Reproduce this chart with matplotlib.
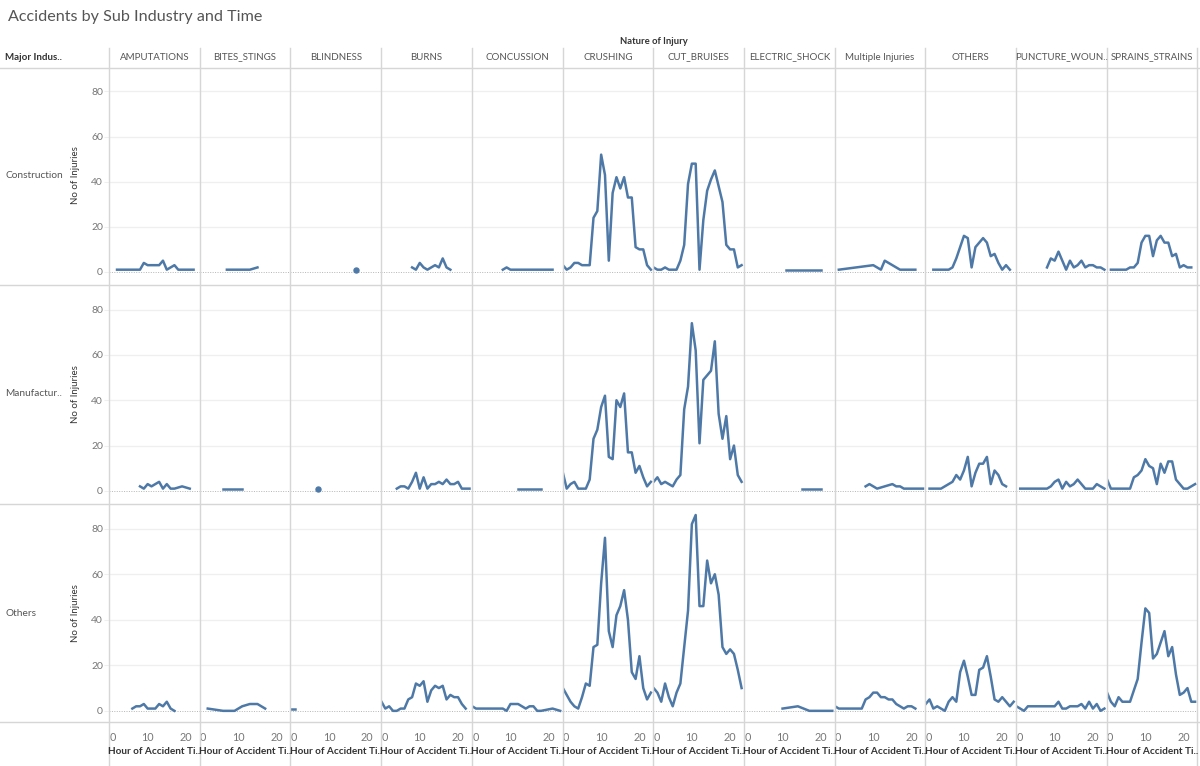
import matplotlib.pyplot as plt
from matplotlib.lines import Line2D

plt.rcParams['font.family'] = ['Lato', 'DejaVu Sans']

INDUSTRIES = ['Construction', 'Manufactur..', 'Others']
INJURIES = ['AMPUTATIONS', 'BITES_STINGS', 'BLINDNESS', 'BURNS', 'CONCUSSION',
            'CRUSHING', 'CUT_BRUISES', 'ELECTRIC_SHOCK', 'Multiple Injuries',
            'OTHERS', 'PUNCTURE_WOUN..', 'SPRAINS_STRAINS']
Y_TICKS = [0, 20, 40, 60, 80]
X_TICKS = [0, 10, 20]
ALL_HOURS = list(range(0, 24))

# ---- Construction ----
con_amputations_h = list(range(2, 23))
con_amputations_n = [1, 1, 1, 1, 1, 1, 1, 4, 3, 3, 3, 3, 5, 1, 2, 3, 1, 1, 1, 1, 1]
con_bites_h = [7, 8, 9, 10, 11, 12, 13, 15]
con_bites_n = [1, 1, 1, 1, 1, 1, 1, 2]
con_blindness_h = [17]
con_blindness_n = [1]
con_burns_h = list(range(8, 19))
con_burns_n = [2, 1, 4, 2, 1, 2, 3, 2, 6, 2, 1]
con_concussion_h = list(range(8, 22))
con_concussion_n = [1, 2, 1, 1, 1, 1, 1, 1, 1, 1, 1, 1, 1, 1]
con_crushing_h = ALL_HOURS
con_crushing_n = [3, 1, 2, 4, 4, 3, 3, 3, 24, 27, 52, 43, 5, 35, 42, 37, 42, 33,
                  33, 11, 10, 10, 3, 1]
con_cut_h = ALL_HOURS
con_cut_n = [2, 1, 1, 2, 1, 1, 1, 5, 12, 39, 48, 48, 1, 23, 36, 41, 45, 38, 31,
             12, 10, 10, 2, 3]
con_electric_h = list(range(11, 21))
con_electric_n = [1, 1, 1, 1, 1, 1, 1, 1, 1, 1]
con_multiple_h = [1, 10, 12, 13, 17, 21]
con_multiple_n = [1, 3, 1, 5, 1, 1]
con_others_h = list(range(2, 23))
con_others_n = [1, 1, 1, 1, 1, 2, 6, 11, 16, 15, 2, 11, 13, 15, 13, 7, 8, 4, 1, 3, 1]
con_puncture_h = list(range(8, 24))
con_puncture_n = [2, 6, 5, 9, 5, 1, 5, 2, 3, 5, 2, 3, 3, 2, 2, 1]
con_sprains_h = list(range(1, 23))
con_sprains_n = [1, 1, 1, 1, 1, 2, 2, 4, 13, 16, 16, 7, 14, 16, 13, 13, 7, 8, 2,
                 3, 2, 2]

# ---- Manufacturing ----
man_amputations_h = [8, 9, 10, 11, 13, 14, 15, 16, 17, 19, 21]
man_amputations_n = [2, 1, 3, 2, 4, 1, 3, 1, 1, 2, 1]
man_bites_h = list(range(6, 12))
man_bites_n = [1, 1, 1, 1, 1, 1]
man_blindness_h = [7]
man_blindness_n = [1]
man_burns_h = list(range(4, 24))
man_burns_n = [1, 2, 2, 1, 4, 8, 1, 6, 1, 3, 3, 4, 3, 5, 3, 3, 4, 1, 1, 1]
man_concussion_h = list(range(12, 19))
man_concussion_n = [1, 1, 1, 1, 1, 1, 1]
man_crushing_h = ALL_HOURS
man_crushing_n = [8, 1, 3, 4, 1, 1, 1, 5, 23, 27, 37, 42, 15, 14, 40, 37, 43, 17,
                  17, 8, 11, 6, 2, 4]
man_cut_h = ALL_HOURS
man_cut_n = [4, 6, 3, 4, 3, 2, 5, 7, 36, 46, 74, 62, 21, 49, 51, 53, 66, 34, 23,
             33, 14, 20, 7, 4]
man_electric_h = list(range(15, 21))
man_electric_n = [1, 1, 1, 1, 1, 1]
man_multiple_h = [8, 9, 11, 13, 15, 16, 17, 18, 23]
man_multiple_n = [2, 3, 1, 2, 3, 2, 2, 1, 1]
man_others_h = list(range(1, 22))
man_others_n = [1, 1, 1, 1, 2, 3, 4, 7, 5, 9, 15, 2, 8, 12, 12, 15, 3, 9, 7, 3, 2]
man_puncture_h = list(range(1, 24))
man_puncture_n = [1, 1, 1, 1, 1, 1, 1, 1, 2, 4, 5, 1, 4, 2, 3, 5, 3, 1, 1, 1, 3,
                  2, 1]
man_sprains_h = ALL_HOURS
man_sprains_n = [5, 1, 1, 1, 1, 1, 1, 6, 7, 9, 14, 11, 10, 3, 12, 8, 13, 13, 5,
                 3, 1, 1, 2, 3]

# ---- Others ----
oth_amputations_h = list(range(6, 18))
oth_amputations_n = [1, 2, 2, 3, 1, 1, 1, 3, 2, 4, 1, 0]
oth_bites_h = [2, 6, 9, 11, 13, 15, 17]
oth_bites_n = [1, 0, 0, 2, 3, 3, 1]
oth_blindness_h = [0, 1]
oth_blindness_n = [1, 1]
oth_burns_h = list(range(0, 23))
oth_burns_n = [4, 1, 2, 0, 0, 1, 1, 5, 6, 12, 11, 13, 4, 9, 11, 10, 11, 5, 7, 6,
               6, 3, 1]
oth_concussion_h = [0, 1, 8, 9, 10, 12, 14, 15, 16, 17, 18, 21, 23]
oth_concussion_n = [2, 1, 1, 0, 3, 3, 1, 2, 2, 0, 0, 1, 0]
oth_crushing_h = ALL_HOURS
oth_crushing_n = [10, 7, 4, 2, 1, 6, 12, 11, 28, 29, 56, 76, 35, 28, 42, 46, 53,
                  40, 17, 14, 24, 10, 5, 8]
oth_cut_h = ALL_HOURS
oth_cut_n = [10, 8, 4, 12, 6, 2, 8, 12, 28, 44, 82, 86, 46, 46, 66, 56, 60, 51,
             28, 25, 27, 25, 18, 10]
oth_electric_h = [10, 14, 17, 23]
oth_electric_n = [1, 2, 0, 0]
oth_multiple_h = list(range(0, 22))
oth_multiple_n = [2, 1, 1, 1, 1, 1, 1, 1, 5, 6, 8, 8, 6, 6, 5, 5, 3, 2, 1, 2, 2, 1]
oth_others_h = ALL_HOURS
oth_others_n = [3, 5, 1, 2, 1, 0, 4, 6, 4, 17, 22, 15, 7, 7, 18, 19, 24, 15, 5,
                4, 6, 4, 2, 4]
oth_puncture_h = ALL_HOURS
oth_puncture_n = [2, 1, 0, 2, 2, 2, 2, 2, 2, 2, 2, 4, 1, 1, 2, 2, 2, 3, 1, 4, 1,
                  3, 0, 1]
oth_sprains_h = ALL_HOURS
oth_sprains_n = [8, 4, 2, 6, 4, 4, 4, 9, 14, 30, 45, 43, 23, 25, 30, 35, 24, 28,
                 16, 7, 8, 10, 4, 4]

ROWS = [
    [(con_amputations_h, con_amputations_n), (con_bites_h, con_bites_n),
     (con_blindness_h, con_blindness_n), (con_burns_h, con_burns_n),
     (con_concussion_h, con_concussion_n), (con_crushing_h, con_crushing_n),
     (con_cut_h, con_cut_n), (con_electric_h, con_electric_n),
     (con_multiple_h, con_multiple_n), (con_others_h, con_others_n),
     (con_puncture_h, con_puncture_n), (con_sprains_h, con_sprains_n)],
    [(man_amputations_h, man_amputations_n), (man_bites_h, man_bites_n),
     (man_blindness_h, man_blindness_n), (man_burns_h, man_burns_n),
     (man_concussion_h, man_concussion_n), (man_crushing_h, man_crushing_n),
     (man_cut_h, man_cut_n), (man_electric_h, man_electric_n),
     (man_multiple_h, man_multiple_n), (man_others_h, man_others_n),
     (man_puncture_h, man_puncture_n), (man_sprains_h, man_sprains_n)],
    [(oth_amputations_h, oth_amputations_n), (oth_bites_h, oth_bites_n),
     (oth_blindness_h, oth_blindness_n), (oth_burns_h, oth_burns_n),
     (oth_concussion_h, oth_concussion_n), (oth_crushing_h, oth_crushing_n),
     (oth_cut_h, oth_cut_n), (oth_electric_h, oth_electric_n),
     (oth_multiple_h, oth_multiple_n), (oth_others_h, oth_others_n),
     (oth_puncture_h, oth_puncture_n), (oth_sprains_h, oth_sprains_n)],
]

W, H = 1200, 766
LINE_COLOR = '#4e79a7'
DIV_COLOR = '#d6d6d6'
GRID_COLOR = '#efefef'

def fx(px):
    return px / W

def fy(py):
    return 1 - py / H

fig = plt.figure(figsize=(W / 100, H / 100), dpi=100)

PANEL_X0 = 109
PANEL_W = 90.7
ROW_TOP = [68, 286, 505]
ROW_BOTTOM = [283, 502, 722]

for r, row in enumerate(ROWS):
    for c, (hrs, vals) in enumerate(row):
        x0 = PANEL_X0 + PANEL_W * c
        ax = fig.add_axes([fx(x0), fy(ROW_BOTTOM[r]), PANEL_W / W,
                           (ROW_BOTTOM[r] - ROW_TOP[r]) / H])
        ax.set_xlim(-0.1, 23.6)
        ax.set_ylim(-4.9, 90.4)
        for s in ax.spines.values():
            s.set_visible(False)
        ax.patch.set_alpha(0)
        for g in Y_TICKS[1:]:
            ax.axhline(g, color=GRID_COLOR, lw=0.9, zorder=1)
        ax.axhline(0, color='#b5b5b5', lw=0.7, ls=(0, (1, 1.5)), zorder=1)
        if len(hrs) == 1:
            ax.plot(hrs, vals, 'o', color=LINE_COLOR, ms=3.6, zorder=3)
        else:
            ax.plot(hrs, vals, color=LINE_COLOR, lw=1.8, zorder=3)
        if c == 0:
            ax.set_yticks(Y_TICKS)
            ax.tick_params(axis='y', length=3.5, color=GRID_COLOR, pad=0.8,
                           labelsize=7.5, labelcolor='#777777')
        else:
            ax.set_yticks([])
        if r == 2:
            ax.set_xticks(X_TICKS)
            ax.tick_params(axis='x', length=0, pad=7, labelsize=7.8,
                           labelcolor='#777777')
            ax.get_xticklabels()[0].set_horizontalalignment('left')
            fig.text(fx(x0 + PANEL_W / 2), fy(752), 'Hour of Accident Ti..',
                     ha='center', va='center', fontsize=7.2, fontweight='bold',
                     color='#333333')
        else:
            ax.set_xticks([])

# dividers
for c in range(13):
    x = PANEL_X0 + PANEL_W * c
    fig.add_artist(Line2D([fx(x), fx(x)], [fy(48), fy(766)], color=DIV_COLOR, lw=1))
for y in [68, 284.5, 503.5, 722]:
    fig.add_artist(Line2D([0, 1], [fy(y), fy(y)], color=DIV_COLOR, lw=1))

# headers
fig.text(fx(8), fy(17), 'Accidents by Sub Industry and Time', fontsize=11.6,
         color='#555555', va='center', ha='left')
fig.text(fx(654), fy(41), 'Nature of Injury', fontsize=6.8, fontweight='bold',
         color='#333333', ha='center', va='center')
fig.text(fx(5), fy(57), 'Major Indus..', fontsize=7, fontweight='bold',
         color='#333333', ha='left', va='center')
for c, name in enumerate(INJURIES):
    fig.text(fx(PANEL_X0 + PANEL_W * c + PANEL_W / 2), fy(57), name, fontsize=7,
             color='#555555', ha='center', va='center')
for r, name in enumerate(INDUSTRIES):
    yc = (ROW_TOP[r] + ROW_BOTTOM[r]) / 2
    fig.text(fx(5), fy(yc), name, fontsize=7.3, color='#555555', ha='left',
             va='center')
    fig.text(fx(75), fy(yc), 'No of Injuries', fontsize=7, color='#333333',
             rotation=90, ha='center', va='center')

fig.savefig('out.png', dpi=100)
